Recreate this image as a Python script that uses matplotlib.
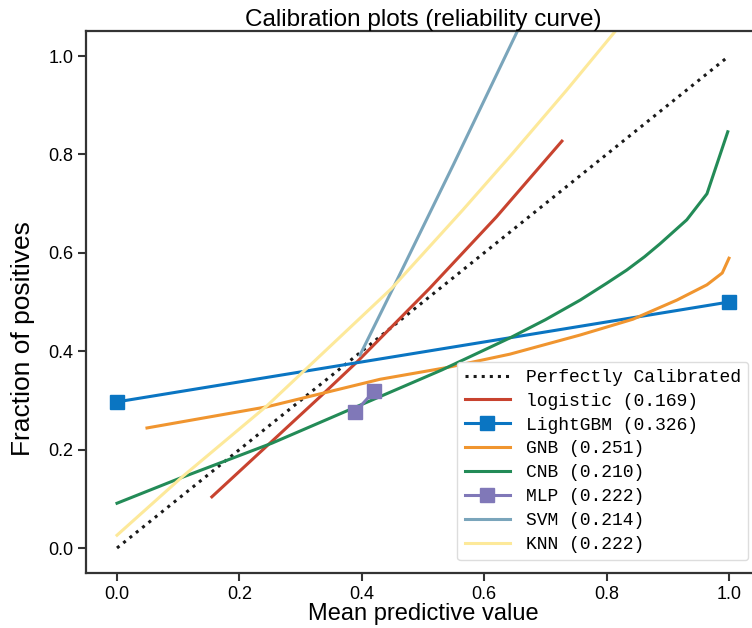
import matplotlib.pyplot as plt

# perfectly calibrated reference
diag_x = [0.0, 1.0]
diag_y = [0.0, 1.0]

logistic_x = [0.155, 0.335, 0.392, 0.511, 0.62, 0.727]
logistic_y = [0.104, 0.311, 0.378, 0.528, 0.673, 0.827]

lgbm_x = [0.0, 1.0]
lgbm_y = [0.297, 0.500]

gnb_x = [0.049, 0.245, 0.43, 0.54, 0.642, 0.757, 0.843, 0.915, 0.964, 0.989, 1.0]
gnb_y = [0.244, 0.287, 0.343, 0.367, 0.394, 0.433, 0.465, 0.504, 0.535, 0.559, 0.589]

cnb_x = [0.0, 0.103, 0.253, 0.531, 0.642, 0.70, 0.757, 0.80, 0.833, 0.862, 0.887, 0.931, 0.964, 0.998]
cnb_y = [0.091, 0.142, 0.213, 0.362, 0.427, 0.464, 0.504, 0.538, 0.565, 0.592, 0.618, 0.667, 0.720, 0.846]

mlp_x = [0.389, 0.420]
mlp_y = [0.276, 0.319]

svm_x = [0.397, 0.451, 0.55, 0.654, 0.70]
svm_y = [0.392, 0.528, 0.78, 1.05, 1.17]

knn_x = [0.0, 0.106, 0.245, 0.449, 0.565, 0.647, 0.735, 0.814, 0.85]
knn_y = [0.026, 0.144, 0.289, 0.528, 0.687, 0.803, 0.931, 1.05, 1.11]

labels = ["logistic (0.169)", "LightGBM (0.326)", "GNB (0.251)", "CNB (0.210)",
          "MLP (0.222)", "SVM (0.214)", "KNN (0.222)"]

plt.rcParams["font.family"] = ["Liberation Sans", "DejaVu Sans"]

fig = plt.figure(figsize=(7.52, 6.28), dpi=100)
ax = fig.add_axes([0.1149, 0.0882, 0.8952, 0.8618])

lw = 2.2
ax.plot(diag_x, diag_y, ":", color="#1a1a1a", lw=2.2, label="Perfectly Calibrated")
ax.plot(logistic_x, logistic_y, color="#c8432f", lw=lw, label=labels[0])
ax.plot(lgbm_x, lgbm_y, "s-", color="#0a75c2", lw=lw, ms=10, label=labels[1])
ax.plot(gnb_x, gnb_y, color="#f0952f", lw=lw, label=labels[2])
ax.plot(cnb_x, cnb_y, color="#238b57", lw=lw, label=labels[3])
ax.plot(mlp_x, mlp_y, "s-", color="#8078b8", lw=lw, ms=10, label=labels[4])
ax.plot(svm_x, svm_y, color="#7aa5bb", lw=lw, label=labels[5])
ax.plot(knn_x, knn_y, color="#fde99a", lw=lw, label=labels[6])

ax.set_xlim(-0.05, 1.05)
ax.set_ylim(-0.05, 1.05)
ax.set_xticks([0.0, 0.2, 0.4, 0.6, 0.8, 1.0])
ax.set_yticks([0.0, 0.2, 0.4, 0.6, 0.8, 1.0])
ax.tick_params(labelsize=13, length=6, width=1.5, color="#333333")
for s in ax.spines.values():
    s.set_color("#333333")
    s.set_linewidth(1.6)

ax.set_title("Calibration plots (reliability curve)", fontsize=17.5, pad=4)
ax.set_xlabel("Mean predictive value", fontsize=17, labelpad=0)
ax.set_ylabel("Fraction of positives", fontsize=19)
ax.yaxis.set_label_coords(-0.076, 0.433)

leg = ax.legend(loc="lower right", bbox_to_anchor=(0.983, 0.023), borderaxespad=0,
                prop={"family": "Liberation Mono", "size": 13}, handlelength=2.5,
                handletextpad=0.9, labelspacing=0.38, fancybox=True,
                framealpha=1, edgecolor="#dddddd")

fig.savefig("out.png", dpi=100)
